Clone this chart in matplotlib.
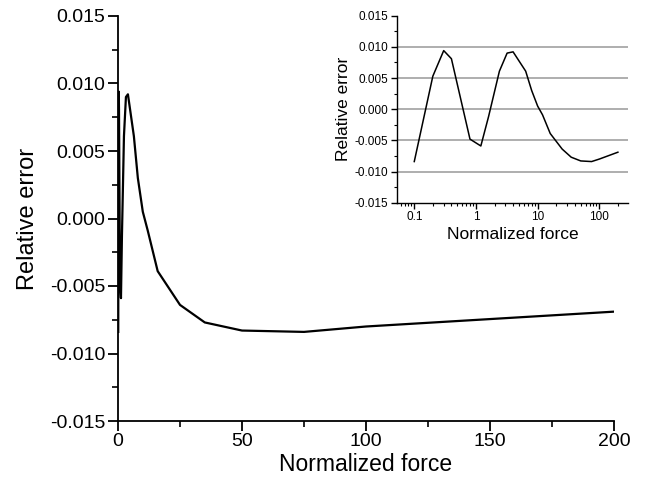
import matplotlib
matplotlib.use("Agg")
import matplotlib.pyplot as plt
from matplotlib.ticker import MultipleLocator, FixedLocator, LogLocator, NullFormatter, FormatStrFormatter

plt.rcParams['font.family'] = ['Liberation Sans', 'DejaVu Sans']

force = [0.1, 0.2, 0.3, 0.4, 0.8, 1.2, 1.6, 2.4, 3.2, 4.0, 6.4, 8, 10, 12, 16, 25, 35, 50, 75, 100, 200]
rel_error = [-0.0084, 0.0053, 0.0094, 0.0081, -0.0048, -0.0059, -0.0012, 0.0061, 0.0090, 0.0092,
             0.0061, 0.0030, 0.0005, -0.0009, -0.0039, -0.0064, -0.0077, -0.0083, -0.0084, -0.0080, -0.0069]

main_xticks = [0, 50, 100, 150, 200]
inset_xticks = [0.1, 1, 10, 100]
inset_xticklabels = ['0.1', '1', '10', '100']
yticks = [-0.015, -0.010, -0.005, 0.000, 0.005, 0.010, 0.015]

fig = plt.figure(figsize=(6.52, 4.83), dpi=100)

# main axes
ax = fig.add_axes([118/652, 1-421/483, (614-118)/652, (421-16)/483])
ax.plot(force, rel_error, color='black', lw=1.6)
ax.set_xlim(0, 200)
ax.set_ylim(-0.015, 0.015)
ax.set_xticks(main_xticks)
ax.set_yticks(yticks)
ax.yaxis.set_major_formatter(FormatStrFormatter('%.3f'))
ax.xaxis.set_minor_locator(MultipleLocator(25))
ax.yaxis.set_minor_locator(MultipleLocator(0.0025))
for s in ['top', 'right']:
    ax.spines[s].set_visible(False)
for s in ['left', 'bottom']:
    ax.spines[s].set_linewidth(1.3)
ax.tick_params(which='major', direction='out', length=7, width=1.3, labelsize=14, pad=2)
ax.tick_params(which='minor', direction='out', length=4, width=1.2)
ax.set_xlabel('Normalized force', fontsize=16.5, labelpad=2)
ax.set_ylabel('Relative error', fontsize=17, labelpad=8)

# inset
ia = fig.add_axes([396.7/652, 1-202.7/483, (628.3-396.7)/652, (202.7-15.7)/483])
ia.set_xscale('log')
ia.set_xlim(0.0519, 295)
ia.set_ylim(-0.015, 0.015)
for yv in yticks[1:-1]:
    ia.axhline(yv, color='#999999', lw=1.1, zorder=0)
ia.plot(force, rel_error, color='black', lw=1.1)
ia.xaxis.set_major_locator(FixedLocator(inset_xticks))
ia.set_xticklabels(inset_xticklabels)
ia.xaxis.set_minor_locator(LogLocator(base=10, subs=range(2, 10)))
ia.xaxis.set_minor_formatter(NullFormatter())
ia.set_yticks(yticks)
ia.yaxis.set_major_formatter(FormatStrFormatter('%.3f'))
ia.yaxis.set_minor_locator(MultipleLocator(0.0025))
for s in ['top', 'right']:
    ia.spines[s].set_visible(False)
for s in ['left', 'bottom']:
    ia.spines[s].set_linewidth(1.0)
ia.tick_params(which='major', direction='out', length=4, width=1.0, labelsize=8.5, pad=2)
ia.tick_params(which='minor', direction='out', length=2.5, width=0.8)
ia.set_xlabel('Normalized force', fontsize=12.5, labelpad=3)
ia.set_ylabel('Relative error', fontsize=12.5, labelpad=3)

fig.savefig('out.png', dpi=100)
